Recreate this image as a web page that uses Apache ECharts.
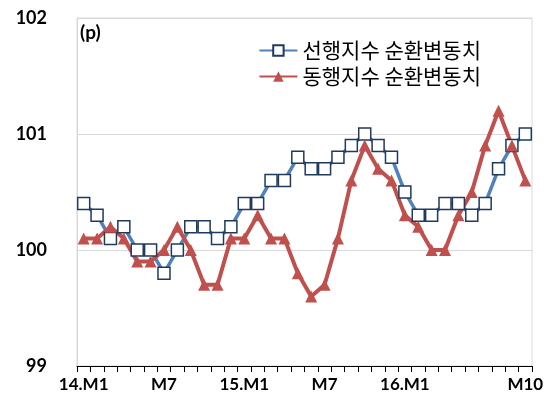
<!DOCTYPE html>
<html>
<head>
<meta charset="utf-8">
<script src="https://cdn.jsdelivr.net/npm/echarts@6/dist/echarts.min.js"></script>
<style>
  html, body { margin: 0; padding: 0; background: #fff; }
  #chart { width: 554px; height: 409px; }
</style>
</head>
<body>
<div id="chart"></div>
<script>
// 월별 범주: 14.M1 ~ 16.M10
var months = [];
['14', '15', '16'].forEach(function (yy) {
    for (var m = 1; m <= 12; m++) {
        if (yy === '16' && m > 10) break;
        months.push(yy + '.M' + m);
    }
});
// 축에 표시할 눈금 라벨
var tickLabels = {'14.M1': '14.M1', '14.M7': 'M7', '15.M1': '15.M1', '15.M7': 'M7', '16.M1': '16.M1', '16.M10': 'M10'};

var leadName = '선행지수 순환변동치';
var coinName = '동행지수 순환변동치';
var leadData = [100.4, 100.3, 100.1, 100.2, 100.0, 100.0, 99.8, 100.0, 100.2, 100.2, 100.1, 100.2,
                100.4, 100.4, 100.6, 100.6, 100.8, 100.7, 100.7, 100.8, 100.9, 101.0, 100.9, 100.8,
                100.5, 100.3, 100.3, 100.4, 100.4, 100.3, 100.4, 100.7, 100.9, 101.0];
var coinData = [100.1, 100.1, 100.2, 100.1, 99.9, 99.9, 100.0, 100.2, 100.0, 99.7, 99.7, 100.1,
                100.1, 100.3, 100.1, 100.1, 99.8, 99.6, 99.7, 100.1, 100.6, 100.9, 100.7, 100.6,
                100.3, 100.2, 100.0, 100.0, 100.3, 100.5, 100.9, 101.2, 100.9, 100.6];

var myChart = echarts.init(document.getElementById('chart'));
var labelFont = 'Lato, "Noto Sans", sans-serif';
var option = {
    backgroundColor: '#fff',
    animation: false,
    grid: {
        left: 77, right: 22, top: 18, bottom: 43,
        show: true, borderColor: '#d9d9d9', borderWidth: 1
    },
    graphic: [{
        type: 'text', left: 80, top: 23,
        style: { text: '(p)', font: 'bold 19px ' + labelFont, fill: '#000' }
    }],
    legend: {
        orient: 'vertical',
        right: 68, top: 35,
        itemWidth: 38, itemHeight: 13, itemGap: 5,
        textStyle: { fontFamily: '"Noto Sans CJK KR"', fontSize: 21, color: '#000' },
        data: [leadName, coinName]
    },
    xAxis: {
        type: 'category',
        data: months,
        boundaryGap: true,
        axisLine: { lineStyle: { color: '#000', width: 1 } },
        axisTick: { show: true, interval: 0, length: 6, inside: false, lineStyle: { color: '#000' } },
        axisLabel: {
            interval: 0,
            margin: 10,
            color: '#000',
            fontFamily: labelFont,
            fontWeight: 'bold',
            fontSize: 17,
            formatter: function (v) { return tickLabels[v] || ''; }
        },
        splitLine: { show: false }
    },
    yAxis: {
        type: 'value',
        min: 99, max: 102, interval: 1,
        axisLine: { show: true, lineStyle: { color: '#d9d9d9' } },
        axisTick: { show: false },
        axisLabel: {
            margin: 30,
            color: '#000',
            fontFamily: labelFont,
            fontWeight: 'bold',
            fontSize: 18
        },
        splitLine: { lineStyle: { color: '#d9d9d9', width: 1 } }
    },
    series: [{
        name: leadName,
        type: 'line',
        data: leadData,
        symbol: 'rect',
        symbolSize: 12,
        showAllSymbol: true,
        lineStyle: { color: '#4f81bd', width: 3.5 },
        itemStyle: { color: '#fff', borderColor: '#1f3a5c', borderWidth: 1.5 }
    }, {
        name: coinName,
        type: 'line',
        data: coinData,
        symbol: 'triangle',
        symbolSize: 12,
        showAllSymbol: true,
        lineStyle: { color: '#c0504d', width: 4 },
        itemStyle: { color: '#c0504d' }
    }]
};
myChart.setOption(option);
</script>
</body>
</html>
